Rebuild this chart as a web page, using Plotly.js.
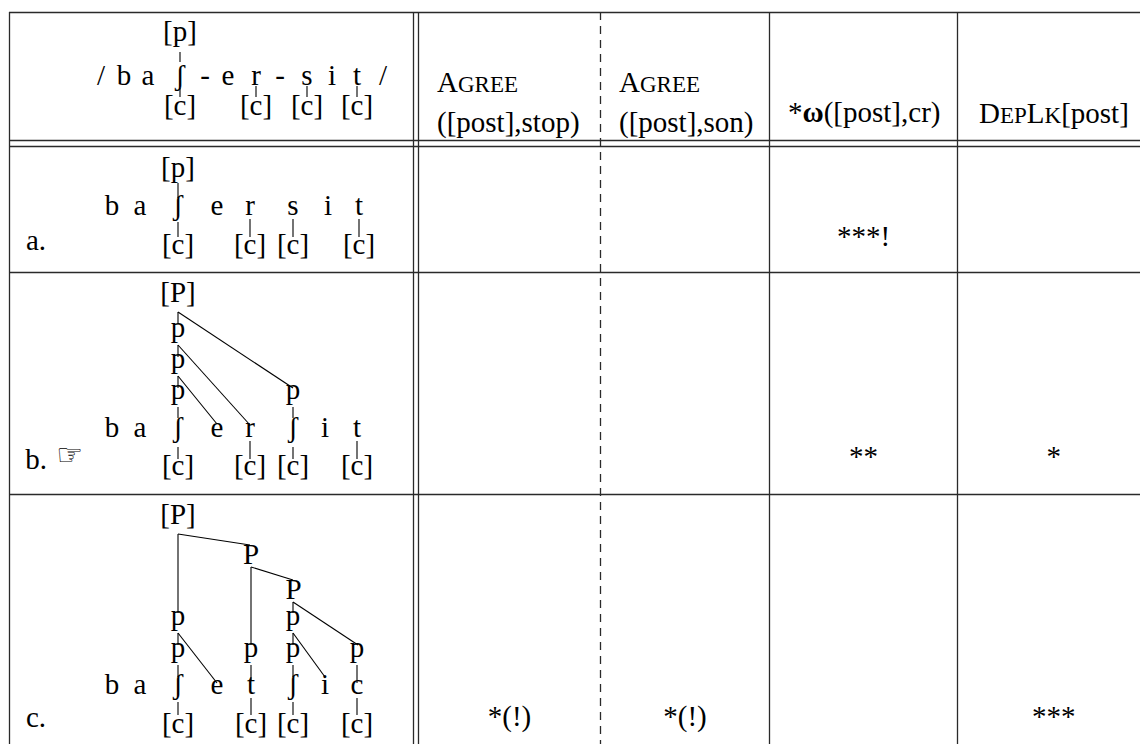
<!DOCTYPE html>
<html><head><meta charset="utf-8">
<script src="https://cdn.plot.ly/plotly-3.0.1.min.js"></script>
<style>html,body{margin:0;padding:0;background:#fff;}#chart{width:1140px;height:744px;}</style>
</head><body><div id="chart"></div>
<script>
// ---------- tableau content ----------
const exampleNumber = '(5.12)';
const constraintTop = ['A<span style="font-size:23px">GREE</span>', 'A<span style="font-size:23px">GREE</span>'];
const constraintBottom = ['([post],stop)', '([post],son)'];
const constraintSingle = ['*<b>ω</b>([post],cr)', 'D<span style="font-size:23px">EP</span>L<span style="font-size:23px">K</span>[post]'];
const candidateLabels = ['a.', 'b.', 'c.'];
const winnerMark = ['', '☞', ''];
const violations = [
  ['', '', '***!', ''],
  ['', '', '**', '*'],
  ['*(!)', '*(!)', '', '***']
];

// ---------- input form /baʃ-er-sit/ ----------
const inSegs = ['/', 'b', 'a', 'ʃ', '-', 'e', 'r', '-', 's', 'i', 't', '/'];
const inSegX = [101, 124, 148, 180, 205, 228, 256, 280, 307, 332, 357, 383];
const inSegBase = 88;
const inNodes = ['[p]', '[c]', '[c]', '[c]', '[c]'];
const inNodeX = [180, 180, 256, 307, 357];
const inNodeBase = [44, 118, 118, 118, 118];
const inLinks = [[180,52,180,62],[180,88,180,97],[256,86,256,97],[307,86,307,97],[357,86,357,97]];

// ---------- candidate a ----------
const aSegs = ['b', 'a', 'ʃ', 'e', 'r', 's', 'i', 't'];
const aSegX = [112, 140, 178, 217, 250, 293, 328, 359];
const aSegBase = 218;
const aNodes = ['[p]', '[c]', '[c]', '[c]', '[c]'];
const aNodeX = [178, 178, 250, 293, 359];
const aNodeBase = [180, 257, 257, 257, 257];
const aLinks = [[178,183,178,198],[178,222,178,237],[250,219,250,237],[293,219,293,237],[359,219,359,237]];

// ---------- candidate b ----------
const bSegs = ['b', 'a', 'ʃ', 'e', 'r', 'ʃ', 'i', 't'];
const bSegX = [112, 140, 178, 217, 250, 293, 325, 357];
const bSegBase = 440;
const bNodes = ['[P]', 'p', 'p', 'p', 'p', '[c]', '[c]', '[c]', '[c]'];
const bNodeX = [178, 178, 178, 178, 293, 178, 250, 293, 357];
const bNodeBase = [305, 339.5, 370.5, 402, 402, 478, 478, 478, 478];
const bLinks = [[178,312,178,324],[178,312,293,388],[178,345,178,357],[178,345,250,425],
  [178,376,178,388],[178,376,217,424],[178,407,178,418],[293,407,293,418],
  [178,447,178,459],[250,441,250,459],[293,447,293,459],[357,441,357,459]];

// ---------- candidate c ----------
const cSegs = ['b', 'a', 'ʃ', 'e', 't', 'ʃ', 'i', 'c'];
const cSegX = [112, 140, 178, 217, 251, 293, 325, 357];
const cSegBase = 697;
const cNodes = ['[P]', 'P', 'P', 'p', 'p', 'p', 'p', 'p', 'p', '[c]', '[c]', '[c]', '[c]'];
const cNodeX = [178, 251, 293.5, 178, 178, 251, 293, 293, 357, 178, 251, 293, 357];
const cNodeBase = [527, 567, 602, 627.5, 659.5, 659.5, 627.5, 659.5, 659.5, 736, 736, 736, 736];
const cLinks = [[178,534,250,545],[178,534,178,613],[251,567,293,580],[251,567,251,645],
  [293,602,293,613],[293,602,358,645],[178,633,178,645],[178,633,217,683],
  [293,633,293,645],[293,633,325,677],[178,665,178,677],[251,665,251,680],
  [293,665,293,677],[357,665,357,683],[178,702,178,715],[251,698,251,715],
  [293,702,293,715],[357,698,357,715]];

// ---------- grid ----------
const colEdges = [418.5, 600.5, 769.5, 957.5, 1150];
const colDashed = [true, false, false];
const labelX = 36;
const handX = 70;
const labelBase = [253, 472, 730];
const markBase = [249, 469, 729];

// ---------- build ----------
const FS = 29;
const SERIF = 'Liberation Serif';
function textTrace(xs, bases, texts, size, family) {
  const s = size || FS;
  return {type: 'scatter', mode: 'text', x: xs, y: bases.map(b => b - 0.35 * s),
    text: texts, textposition: 'middle center',
    textfont: {family: family || SERIF, size: s, color: '#000'},
    hoverinfo: 'skip', cliponaxis: false, showlegend: false};
}
function linkTrace(links) {
  const x = [], y = [];
  links.forEach(l => { x.push(l[0], l[2], null); y.push(l[1], l[3], null); });
  return {type: 'scatter', mode: 'lines', x, y, line: {color: '#000', width: 1.1},
    hoverinfo: 'skip', showlegend: false, cliponaxis: false};
}
const rep = (v, n) => Array(n).fill(v);

const traces = [
  linkTrace(inLinks.concat(aLinks, bLinks, cLinks)),
  textTrace(inSegX, rep(inSegBase, inSegs.length), inSegs),
  textTrace(aSegX, rep(aSegBase, aSegs.length), aSegs),
  textTrace(bSegX, rep(bSegBase, bSegs.length), bSegs),
  textTrace(cSegX, rep(cSegBase, cSegs.length), cSegs),
  textTrace(inNodeX.concat(aNodeX, bNodeX, cNodeX), inNodeBase.concat(aNodeBase, bNodeBase, cNodeBase),
            inNodes.concat(aNodes, bNodes, cNodes)),
  textTrace(rep(labelX, 3), labelBase, candidateLabels),
  textTrace(rep(handX, 3), [0, 468, 0], winnerMark, 30, 'DejaVu Sans'),
  textTrace([42], [1.5], [exampleNumber])
];
// violation marks
const mx = [], mb = [], mt = [];
violations.forEach((row, r) => row.forEach((v, c) => {
  if (v) { mx.push((colEdges[c] + colEdges[c + 1]) / 2); mb.push(markBase[r]); mt.push(v); }
}));
traces.push(textTrace(mx, mb, mt));

// table rules
const ln = (x0, y0, x1, y1, dash) => ({type: 'line', xref: 'x', yref: 'y', x0, y0, x1, y1,
  line: {color: '#2a2a2a', width: 1.3, dash: dash || 'solid'}});
const shapes = [
  ln(9, 12.5, 1140, 12.5),
  ln(9.5, 12, 9.5, 744),
  ln(413.5, 12, 413.5, 744),
  ln(418.5, 12, 418.5, 744),
  ln(9, 140.5, 1140, 140.5),
  ln(9, 146.5, 1140, 146.5),
  ln(9, 272.5, 1140, 272.5),
  ln(9, 494.5, 1140, 494.5)
];
colDashed.forEach((d, i) => shapes.push(ln(colEdges[i + 1], 12, colEdges[i + 1], 744, d ? '8px,6px' : 'solid')));

const annotations = [];
const SHIFT = 0.35 * FS;
[0, 1].forEach(i => {
  const x = colEdges[i] + 16;
  annotations.push({x, y: 92 - SHIFT, xref: 'x', yref: 'y', text: constraintTop[i], showarrow: false,
    xanchor: 'left', yanchor: 'middle', font: {family: SERIF, size: FS, color: '#000'}});
  annotations.push({x, y: 133 - SHIFT, xref: 'x', yref: 'y', text: constraintBottom[i], showarrow: false,
    xanchor: 'left', yanchor: 'middle', font: {family: SERIF, size: FS, color: '#000'}});
});
[2, 3].forEach((c, i) => {
  annotations.push({x: (colEdges[c] + colEdges[c + 1]) / 2, y: 123 - SHIFT, xref: 'x', yref: 'y',
    text: constraintSingle[i], showarrow: false, xanchor: 'center', yanchor: 'middle',
    font: {family: SERIF, size: FS, color: '#000'}});
});

const layout = {
  width: 1140, height: 744, margin: {l: 0, r: 0, t: 0, b: 0},
  paper_bgcolor: '#fff', plot_bgcolor: '#fff', showlegend: false,
  xaxis: {range: [0, 1140], visible: false, fixedrange: true},
  yaxis: {range: [744, 0], visible: false, fixedrange: true},
  shapes, annotations
};
Plotly.newPlot('chart', traces, layout, {displayModeBar: false, staticPlot: true});
</script></body></html>
